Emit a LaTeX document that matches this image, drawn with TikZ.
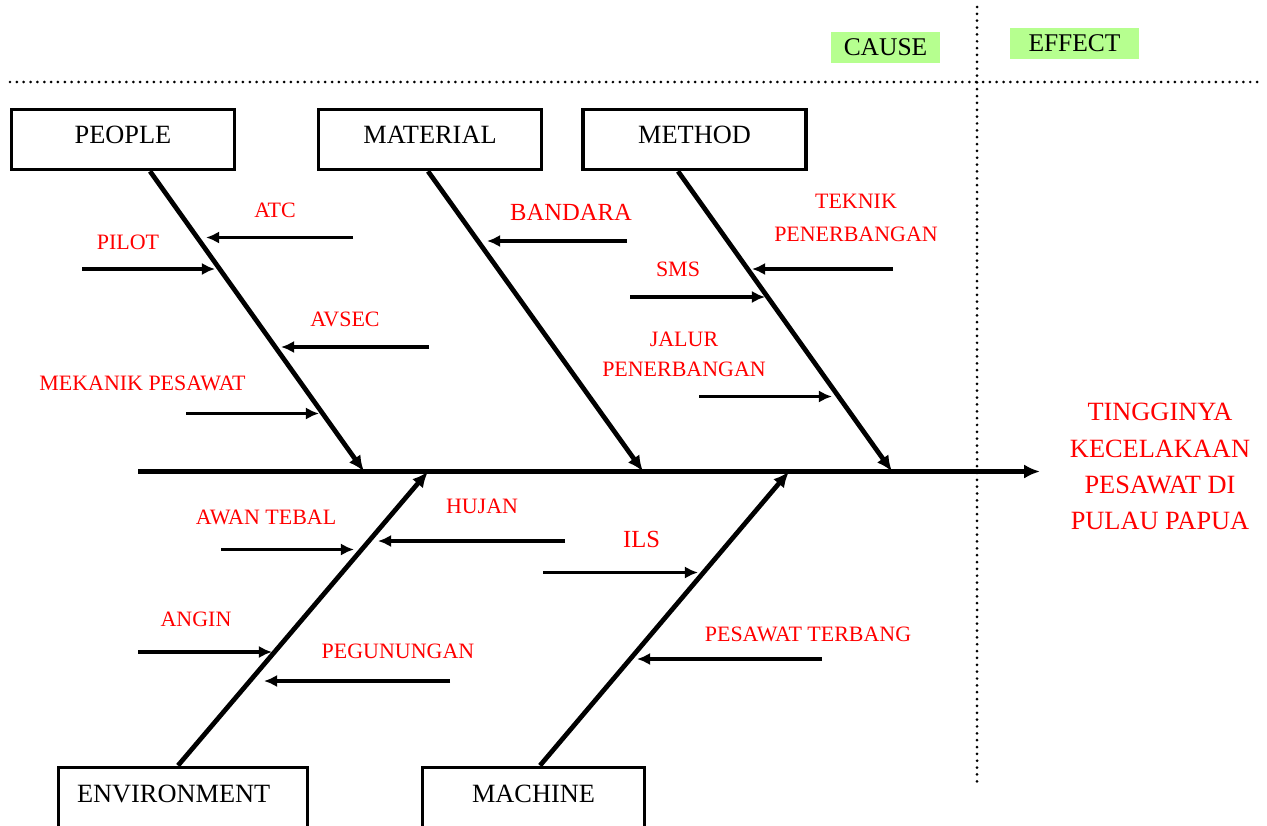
\documentclass[tikz,border=0pt]{standalone}
\usepackage{fontspec}
\setmainfont{Liberation Serif}
\usetikzlibrary{arrows.meta}
\usetikzlibrary{positioning}
\definecolor{causegreen}{HTML}{B6FF8F}
\tikzset{cat/.style = {draw, line width = 2pt, minimum width = 4.46cm,
                       minimum height = 1.2cm, inner sep = 0, text depth = 5.1pt,
                       font = \fontsize{15}{18}\selectfont}}
\tikzset{lbl/.style = {text = red, inner sep = 0, align = center,
                       font = \fontsize{12.5}{18.5}\selectfont}}
\tikzset{bone/.style = {line width = 2.7pt, -{Latex[length = 9pt, width = 8pt]}}}
\tikzset{twig/.style = {line width = 2.1pt, -{Latex[length = 7.5pt, width = 7pt]}}}
\tikzset{sep/.style = {line width = 1.7pt, line cap = round, dash pattern = on 0pt off 3.9pt}}
\tikzset{tag/.style = {fill = causegreen, inner sep = 0, minimum height = 0.62cm,
                       font = \fontsize{14.5}{18}\selectfont}}

\begin{document}
\begin{tikzpicture}[x = 0.02cm, y = -0.02cm]
      \useasboundingbox (0, 0) rectangle (1267, 825);

      % cause / effect split
      \coordinate (sep-l) at (10, 82);
      \coordinate (sep-r) at (1259, 82);
      \coordinate (sep-t) at (977, 7);
      \coordinate (sep-b) at (977, 782);
      \draw [sep] (sep-l) -- (sep-r);
      \draw [sep] (sep-t) -- (sep-b);
      \node (cause) at (885.5, 47.5) [tag, minimum width = 2.18cm] {CAUSE};
      \node (effect) at (1074.5, 43.5) [tag, minimum width = 2.58cm] {EFFECT};

      % categories
      \node (people) at (123, 139.5) [cat] {PEOPLE};
      \node (material) at (430, 139.5) [cat] {MATERIAL};
      \node (method) at (694.5, 139.5) [cat] {METHOD};
      \node (environment) at (183, 765.5) [cat, anchor = north, inner xsep = 0.37cm,
                                           text width = 4.24cm, align = left,
                                           minimum height = 1.3cm, text depth = 6.5pt] {ENVIRONMENT};
      \node (machine) at (533.5, 765.5) [cat, anchor = north, minimum width = 4.44cm,
                                       minimum height = 1.3cm, text depth = 6.5pt] {MACHINE};

      % spine and bones
      \coordinate (tail) at (138, 471.5);
      \coordinate (head) at (1040, 471.5);
      \coordinate (j-people) at (364, 471.5);
      \coordinate (j-material) at (643, 471.5);
      \coordinate (j-method) at (892, 471.5);
      \coordinate (j-environment) at (428, 471.5);
      \coordinate (j-machine) at (789, 471.5);
      \draw [bone] (tail) -- (head);
      \draw [bone] (150, 0 |- people.south) -- (j-people);
      \draw [bone] (428, 0 |- material.south) -- (j-material);
      \draw [bone] (678, 0 |- method.south) -- (j-method);
      \draw [bone] (178, 0 |- environment.north) -- (j-environment);
      \draw [bone] (540, 0 |- machine.north) -- (j-machine);

      \node (problem) at (1160, 466.5) [lbl, font = \fontsize{15}{20.6}\selectfont]
            {TINGGINYA\\KECELAKAAN\\PESAWAT DI\\PULAU PAPUA};

      % people
      \node (atc) at (275, 210) [lbl] {ATC};
      \node (pilot) at (128, 242) [lbl] {PILOT};
      \node (avsec) at (345, 319) [lbl] {AVSEC};
      \node (mekanik) at (142.5, 383) [lbl] {MEKANIK PESAWAT};
      \coordinate (atc-a) at (353, 237.5);
      \coordinate (atc-b) at (206, 237.5);
      \coordinate (pilot-a) at (82, 269);
      \coordinate (pilot-b) at (215, 269);
      \coordinate (avsec-a) at (429, 347);
      \coordinate (avsec-b) at (281, 347);
      \coordinate (mekanik-a) at (186, 413.5);
      \coordinate (mekanik-b) at (319, 413.5);
      \draw [twig] (atc-a) -- (atc-b);
      \draw [twig] (pilot-a) -- (pilot-b);
      \draw [twig] (avsec-a) -- (avsec-b);
      \draw [twig] (mekanik-a) -- (mekanik-b);

      % material
      \node (bandara) at (571, 212) [lbl, font = \fontsize{14}{18}\selectfont] {BANDARA};
      \coordinate (bandara-a) at (627, 241);
      \coordinate (bandara-b) at (487, 241);
      \draw [twig] (bandara-a) -- (bandara-b);

      % method
      \node (teknik) at (856, 218) [lbl, font = \fontsize{12.5}{19}\selectfont] {TEKNIK\\PENERBANGAN};
      \node (sms) at (678, 269.5) [lbl] {SMS};
      \node (jalur) at (684, 354.5) [lbl, font = \fontsize{12.5}{17}\selectfont] {JALUR\\PENERBANGAN};
      \coordinate (teknik-a) at (893, 269);
      \coordinate (teknik-b) at (752, 269);
      \coordinate (sms-a) at (630, 297);
      \coordinate (sms-b) at (765, 297);
      \coordinate (jalur-a) at (699, 396.5);
      \coordinate (jalur-b) at (832, 396.5);
      \draw [twig] (teknik-a) -- (teknik-b);
      \draw [twig] (sms-a) -- (sms-b);
      \draw [twig] (jalur-a) -- (jalur-b);

      % environment
      \node (awan) at (266, 517) [lbl] {AWAN TEBAL};
      \node (hujan) at (482, 506) [lbl] {HUJAN};
      \node (angin) at (196, 619) [lbl] {ANGIN};
      \node (gunung) at (398, 651) [lbl] {PEGUNUNGAN};
      \coordinate (awan-a) at (221, 549.5);
      \coordinate (awan-b) at (354, 549.5);
      \coordinate (hujan-a) at (565, 541);
      \coordinate (hujan-b) at (378, 541);
      \coordinate (angin-a) at (138, 652);
      \coordinate (angin-b) at (272, 652);
      \coordinate (gunung-a) at (450, 681);
      \coordinate (gunung-b) at (264, 681);
      \draw [twig] (awan-a) -- (awan-b);
      \draw [twig] (hujan-a) -- (hujan-b);
      \draw [twig] (angin-a) -- (angin-b);
      \draw [twig] (gunung-a) -- (gunung-b);

      % machine
      \node (ils) at (641.5, 539) [lbl, font = \fontsize{14}{18}\selectfont] {ILS};
      \node (terbang) at (808, 634.5) [lbl] {PESAWAT TERBANG};
      \coordinate (ils-a) at (543, 572.5);
      \coordinate (ils-b) at (698, 572.5);
      \coordinate (terbang-a) at (822, 659);
      \coordinate (terbang-b) at (637, 659);
      \draw [twig] (ils-a) -- (ils-b);
      \draw [twig] (terbang-a) -- (terbang-b);
    \end{tikzpicture}
\end{document}
